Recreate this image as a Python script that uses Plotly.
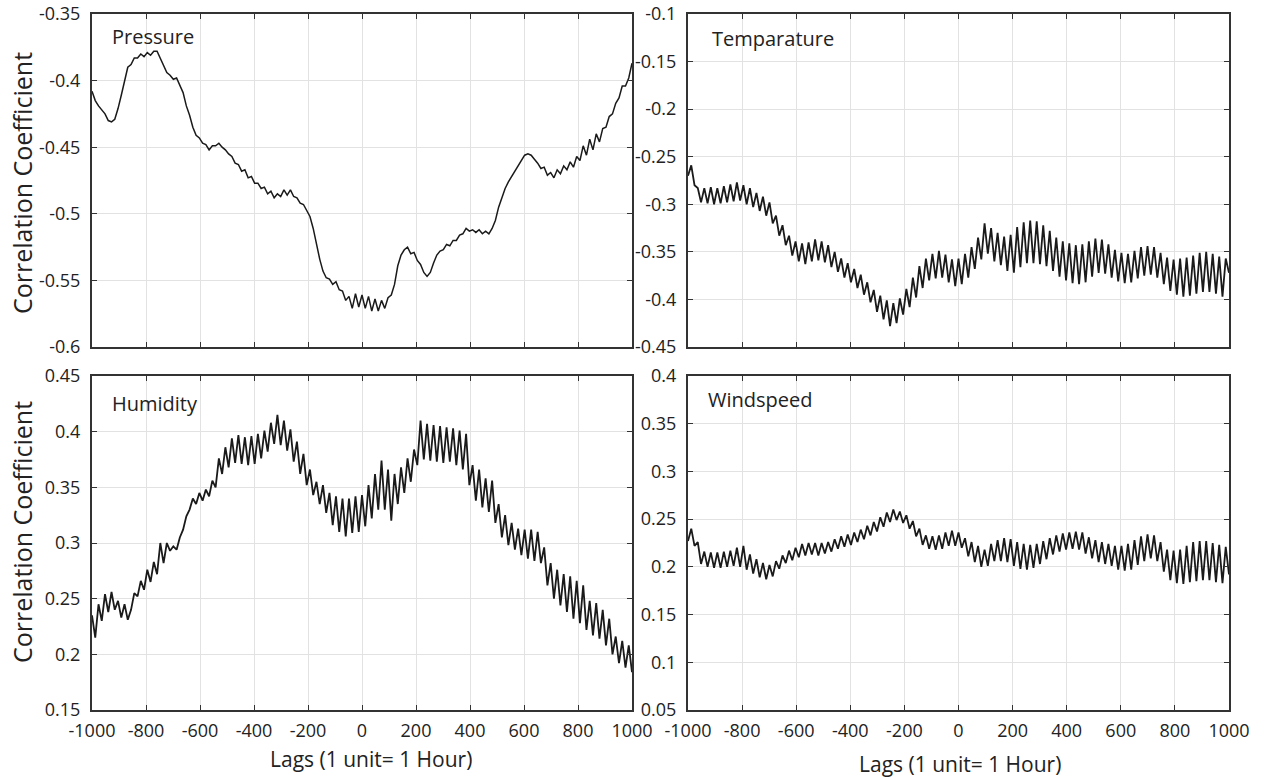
import numpy as np
import plotly.graph_objects as go
from plotly.subplots import make_subplots

# Lag axis (1 unit = 1 hour), one sample about every 12 lags
LAGS = np.linspace(-1000, 1000, 167)

PRESSURE = [
    -0.408, -0.415, -0.419, -0.422, -0.425, -0.430, -0.431, -0.429, -0.421, -0.411,
    -0.400, -0.390, -0.388, -0.383, -0.383, -0.380, -0.382, -0.379, -0.381, -0.378,
    -0.378, -0.383, -0.389, -0.394, -0.396, -0.399, -0.398, -0.404, -0.409, -0.419,
    -0.426, -0.435, -0.441, -0.443, -0.447, -0.448, -0.452, -0.449, -0.449, -0.447,
    -0.450, -0.452, -0.455, -0.457, -0.462, -0.463, -0.468, -0.467, -0.473, -0.472,
    -0.477, -0.477, -0.481, -0.480, -0.485, -0.483, -0.488, -0.485, -0.487, -0.482,
    -0.486, -0.482, -0.487, -0.488, -0.492, -0.493, -0.498, -0.502, -0.511, -0.523,
    -0.534, -0.543, -0.548, -0.549, -0.553, -0.551, -0.557, -0.558, -0.565, -0.562,
    -0.571, -0.560, -0.570, -0.561, -0.571, -0.562, -0.573, -0.564, -0.573, -0.565,
    -0.571, -0.563, -0.561, -0.553, -0.539, -0.531, -0.527, -0.525, -0.530, -0.529,
    -0.535, -0.538, -0.544, -0.547, -0.544, -0.537, -0.531, -0.528, -0.527, -0.523,
    -0.524, -0.520, -0.520, -0.516, -0.515, -0.511, -0.513, -0.512, -0.514, -0.512,
    -0.515, -0.513, -0.515, -0.511, -0.505, -0.495, -0.488, -0.481, -0.476, -0.472,
    -0.467, -0.463, -0.460, -0.456, -0.455, -0.456, -0.459, -0.462, -0.466, -0.465,
    -0.471, -0.469, -0.473, -0.467, -0.470, -0.464, -0.467, -0.461, -0.465, -0.457,
    -0.460, -0.449, -0.456, -0.444, -0.452, -0.440, -0.446, -0.436, -0.435, -0.427,
    -0.425, -0.417, -0.413, -0.404, -0.404, -0.398, -0.387,
]

TEMPERATURE = [
    -0.270, -0.259, -0.280, -0.283, -0.298, -0.283, -0.299, -0.282, -0.300, -0.283,
    -0.299, -0.281, -0.298, -0.279, -0.297, -0.277, -0.296, -0.280, -0.300, -0.283,
    -0.303, -0.288, -0.307, -0.292, -0.312, -0.298, -0.320, -0.312, -0.333, -0.322,
    -0.343, -0.333, -0.354, -0.339, -0.360, -0.341, -0.363, -0.340, -0.360, -0.337,
    -0.359, -0.339, -0.361, -0.343, -0.366, -0.350, -0.371, -0.357, -0.377, -0.362,
    -0.382, -0.368, -0.388, -0.374, -0.395, -0.382, -0.403, -0.390, -0.413, -0.396,
    -0.421, -0.401, -0.428, -0.404, -0.425, -0.399, -0.416, -0.389, -0.408, -0.377,
    -0.398, -0.365, -0.388, -0.357, -0.380, -0.352, -0.378, -0.349, -0.377, -0.353,
    -0.382, -0.358, -0.386, -0.357, -0.384, -0.352, -0.377, -0.345, -0.368, -0.335,
    -0.358, -0.320, -0.352, -0.325, -0.360, -0.330, -0.364, -0.334, -0.370, -0.332,
    -0.372, -0.324, -0.366, -0.319, -0.362, -0.317, -0.362, -0.318, -0.363, -0.322,
    -0.365, -0.328, -0.370, -0.335, -0.376, -0.339, -0.380, -0.341, -0.383, -0.343,
    -0.384, -0.342, -0.382, -0.339, -0.376, -0.336, -0.372, -0.337, -0.373, -0.342,
    -0.377, -0.348, -0.381, -0.351, -0.383, -0.352, -0.382, -0.349, -0.378, -0.345,
    -0.375, -0.344, -0.374, -0.345, -0.377, -0.351, -0.384, -0.356, -0.391, -0.358,
    -0.395, -0.357, -0.397, -0.356, -0.396, -0.354, -0.394, -0.351, -0.392, -0.350,
    -0.392, -0.352, -0.394, -0.355, -0.397, -0.357, -0.372,
]

HUMIDITY = [
    0.235, 0.215, 0.245, 0.230, 0.254, 0.238, 0.256, 0.240, 0.248, 0.233,
    0.245, 0.231, 0.240, 0.255, 0.252, 0.266, 0.258, 0.276, 0.265, 0.283,
    0.272, 0.300, 0.282, 0.300, 0.293, 0.297, 0.294, 0.305, 0.312, 0.324,
    0.330, 0.340, 0.335, 0.345, 0.338, 0.348, 0.342, 0.356, 0.350, 0.376,
    0.362, 0.386, 0.368, 0.394, 0.372, 0.397, 0.371, 0.395, 0.370, 0.396,
    0.371, 0.398, 0.376, 0.401, 0.382, 0.408, 0.389, 0.415, 0.388, 0.410,
    0.383, 0.402, 0.373, 0.391, 0.362, 0.380, 0.352, 0.366, 0.343, 0.355,
    0.335, 0.352, 0.327, 0.345, 0.316, 0.342, 0.310, 0.340, 0.306, 0.340,
    0.309, 0.342, 0.310, 0.343, 0.315, 0.352, 0.322, 0.362, 0.330, 0.374,
    0.330, 0.366, 0.320, 0.362, 0.335, 0.368, 0.345, 0.376, 0.355, 0.384,
    0.370, 0.410, 0.375, 0.407, 0.374, 0.406, 0.373, 0.405, 0.372, 0.404,
    0.373, 0.403, 0.370, 0.401, 0.366, 0.398, 0.352, 0.370, 0.338, 0.366,
    0.332, 0.358, 0.328, 0.356, 0.318, 0.335, 0.305, 0.325, 0.298, 0.318,
    0.294, 0.313, 0.289, 0.312, 0.286, 0.312, 0.284, 0.310, 0.282, 0.296,
    0.262, 0.282, 0.250, 0.276, 0.244, 0.272, 0.238, 0.270, 0.232, 0.266,
    0.228, 0.262, 0.222, 0.248, 0.217, 0.246, 0.214, 0.240, 0.208, 0.232,
    0.200, 0.216, 0.192, 0.212, 0.188, 0.208, 0.184,
]

WINDSPEED = [
    0.227, 0.240, 0.222, 0.226, 0.203, 0.216, 0.200, 0.215, 0.199, 0.215,
    0.199, 0.216, 0.200, 0.217, 0.201, 0.220, 0.200, 0.222, 0.197, 0.213,
    0.193, 0.208, 0.189, 0.204, 0.187, 0.202, 0.190, 0.206, 0.198, 0.212,
    0.204, 0.217, 0.207, 0.220, 0.210, 0.224, 0.212, 0.225, 0.213, 0.225,
    0.212, 0.225, 0.214, 0.226, 0.216, 0.229, 0.219, 0.232, 0.221, 0.234,
    0.223, 0.236, 0.226, 0.239, 0.229, 0.243, 0.233, 0.247, 0.237, 0.252,
    0.242, 0.257, 0.247, 0.260, 0.249, 0.258, 0.246, 0.254, 0.240, 0.248,
    0.232, 0.240, 0.223, 0.233, 0.219, 0.232, 0.218, 0.233, 0.219, 0.236,
    0.222, 0.238, 0.222, 0.236, 0.220, 0.230, 0.211, 0.226, 0.205, 0.222,
    0.200, 0.218, 0.201, 0.224, 0.206, 0.228, 0.206, 0.230, 0.205, 0.229,
    0.201, 0.226, 0.198, 0.224, 0.197, 0.223, 0.199, 0.224, 0.203, 0.227,
    0.208, 0.230, 0.213, 0.233, 0.216, 0.235, 0.218, 0.236, 0.219, 0.237,
    0.218, 0.236, 0.214, 0.231, 0.209, 0.228, 0.205, 0.226, 0.203, 0.224,
    0.201, 0.222, 0.197, 0.222, 0.196, 0.224, 0.197, 0.228, 0.202, 0.232,
    0.206, 0.234, 0.209, 0.233, 0.206, 0.226, 0.195, 0.218, 0.186, 0.217,
    0.183, 0.218, 0.182, 0.222, 0.184, 0.226, 0.185, 0.227, 0.186, 0.227,
    0.186, 0.225, 0.184, 0.223, 0.183, 0.221, 0.192,
]

X_TICKS = [-1000, -800, -600, -400, -200, 0, 200, 400, 600, 800, 1000]
X_TICK_TEXT = ["-1000", "-800", "-600", "-400", "-200", "0", "200", "400", "600", "800", "1000"]

P_TICKS = [-0.6, -0.55, -0.5, -0.45, -0.4, -0.35]
P_TICK_TEXT = ["-0.6", "-0.55", "-0.5", "-0.45", "-0.4", "-0.35"]
T_TICKS = [-0.45, -0.4, -0.35, -0.3, -0.25, -0.2, -0.15, -0.1]
T_TICK_TEXT = ["-0.45", "-0.4", "-0.35", "-0.3", "-0.25", "-0.2", "-0.15", "-0.1"]
H_TICKS = [0.15, 0.2, 0.25, 0.3, 0.35, 0.4, 0.45]
H_TICK_TEXT = ["0.15", "0.2", "0.25", "0.3", "0.35", "0.4", "0.45"]
W_TICKS = [0.05, 0.1, 0.15, 0.2, 0.25, 0.3, 0.35, 0.4]
W_TICK_TEXT = ["0.05", "0.1", "0.15", "0.2", "0.25", "0.3", "0.35", "0.4"]

PANEL_NAMES = ["Pressure", "Temparature", "Humidity", "Windspeed"]
Y_TITLE = "Correlation Coefficient"
X_TITLE = "Lags (1 unit= 1 Hour)"

W, H = 1268, 780
FONT = "Open Sans"
INK = "#222222"

fig = make_subplots(rows=2, cols=2)

series = [(PRESSURE, 1, 1), (TEMPERATURE, 1, 2), (HUMIDITY, 2, 1), (WINDSPEED, 2, 2)]
for vals, r, c in series:
    fig.add_trace(
        go.Scatter(x=LAGS, y=vals, mode="lines",
                   line=dict(color="#1a1a1a", width=1.5 if r == 1 and c == 1 else 1.8),
                   hoverinfo="skip", showlegend=False),
        row=r, col=c,
    )

# panel geometry in pixels
left_x = (92, 632)
right_x = (688, 1229)
top_y = (14, 347)
bot_y = (376, 710)

def xdom(p):
    return [p[0] / W, p[1] / W]

def ydom(p):
    return [1 - p[1] / H, 1 - p[0] / H]

common_axis = dict(
    showline=True, linecolor="#333333", linewidth=2, mirror="ticks",
    ticks="inside", ticklen=5, tickwidth=1, tickcolor="#333333",
    showgrid=True, gridcolor="#e2e2e2", gridwidth=1, zeroline=False,
    tickfont=dict(family=FONT, size=18, color=INK), automargin=False,
)

axes = [
    ("xaxis", "yaxis", left_x, top_y, P_TICKS, P_TICK_TEXT, [-0.6, -0.35], False),
    ("xaxis2", "yaxis2", right_x, top_y, T_TICKS, T_TICK_TEXT, [-0.45, -0.1], False),
    ("xaxis3", "yaxis3", left_x, bot_y, H_TICKS, H_TICK_TEXT, [0.15, 0.45], True),
    ("xaxis4", "yaxis4", right_x, bot_y, W_TICKS, W_TICK_TEXT, [0.05, 0.4], True),
]

layout_updates = {}
for xa, ya, xp, yp, yt, ytt, yr, show_x in axes:
    layout_updates[xa] = dict(
        common_axis, domain=xdom(xp), range=[-1000, 1000],
        tickmode="array", tickvals=X_TICKS, ticktext=X_TICK_TEXT,
        showticklabels=show_x, ticklabelstandoff=3,
    )
    layout_updates[ya] = dict(
        common_axis, domain=ydom(yp), range=yr,
        tickmode="array", tickvals=yt, ticktext=ytt,
        ticklabelstandoff=6,
    )
fig.update_layout(**layout_updates)

annotations = []
# panel names
label_pos = [(110, 36), (710, 38), (110, 403), (706, 400)]
for name, (px, py) in zip(PANEL_NAMES, label_pos):
    annotations.append(dict(text=name, x=px / W, y=1 - py / H, xref="paper", yref="paper",
                            xanchor="left", yanchor="middle", showarrow=False,
                            font=dict(family=FONT, size=20, color=INK)))
# y titles
for py in (183, 532):
    annotations.append(dict(text=Y_TITLE, x=22 / W, y=1 - py / H, xref="paper", yref="paper",
                            xanchor="center", yanchor="middle", textangle=-90, showarrow=False,
                            font=dict(family=FONT, size=25, color=INK)))
# x titles
for px, py in ((371, 759), (960, 764)):
    annotations.append(dict(text=X_TITLE, x=px / W, y=1 - py / H, xref="paper", yref="paper",
                            xanchor="center", yanchor="middle", showarrow=False,
                            font=dict(family=FONT, size=21, color=INK)))

fig.update_layout(
    width=W, height=H,
    margin=dict(l=0, r=0, t=0, b=0, pad=0, autoexpand=False),
    plot_bgcolor="white", paper_bgcolor="white",
    showlegend=False,
    font=dict(family=FONT, size=18, color=INK),
    annotations=annotations,
)

fig.write_html(
    "out.html",
    config={"displayModeBar": False},
    post_script="document.body.style.margin='0';document.body.style.padding='0';",
)
